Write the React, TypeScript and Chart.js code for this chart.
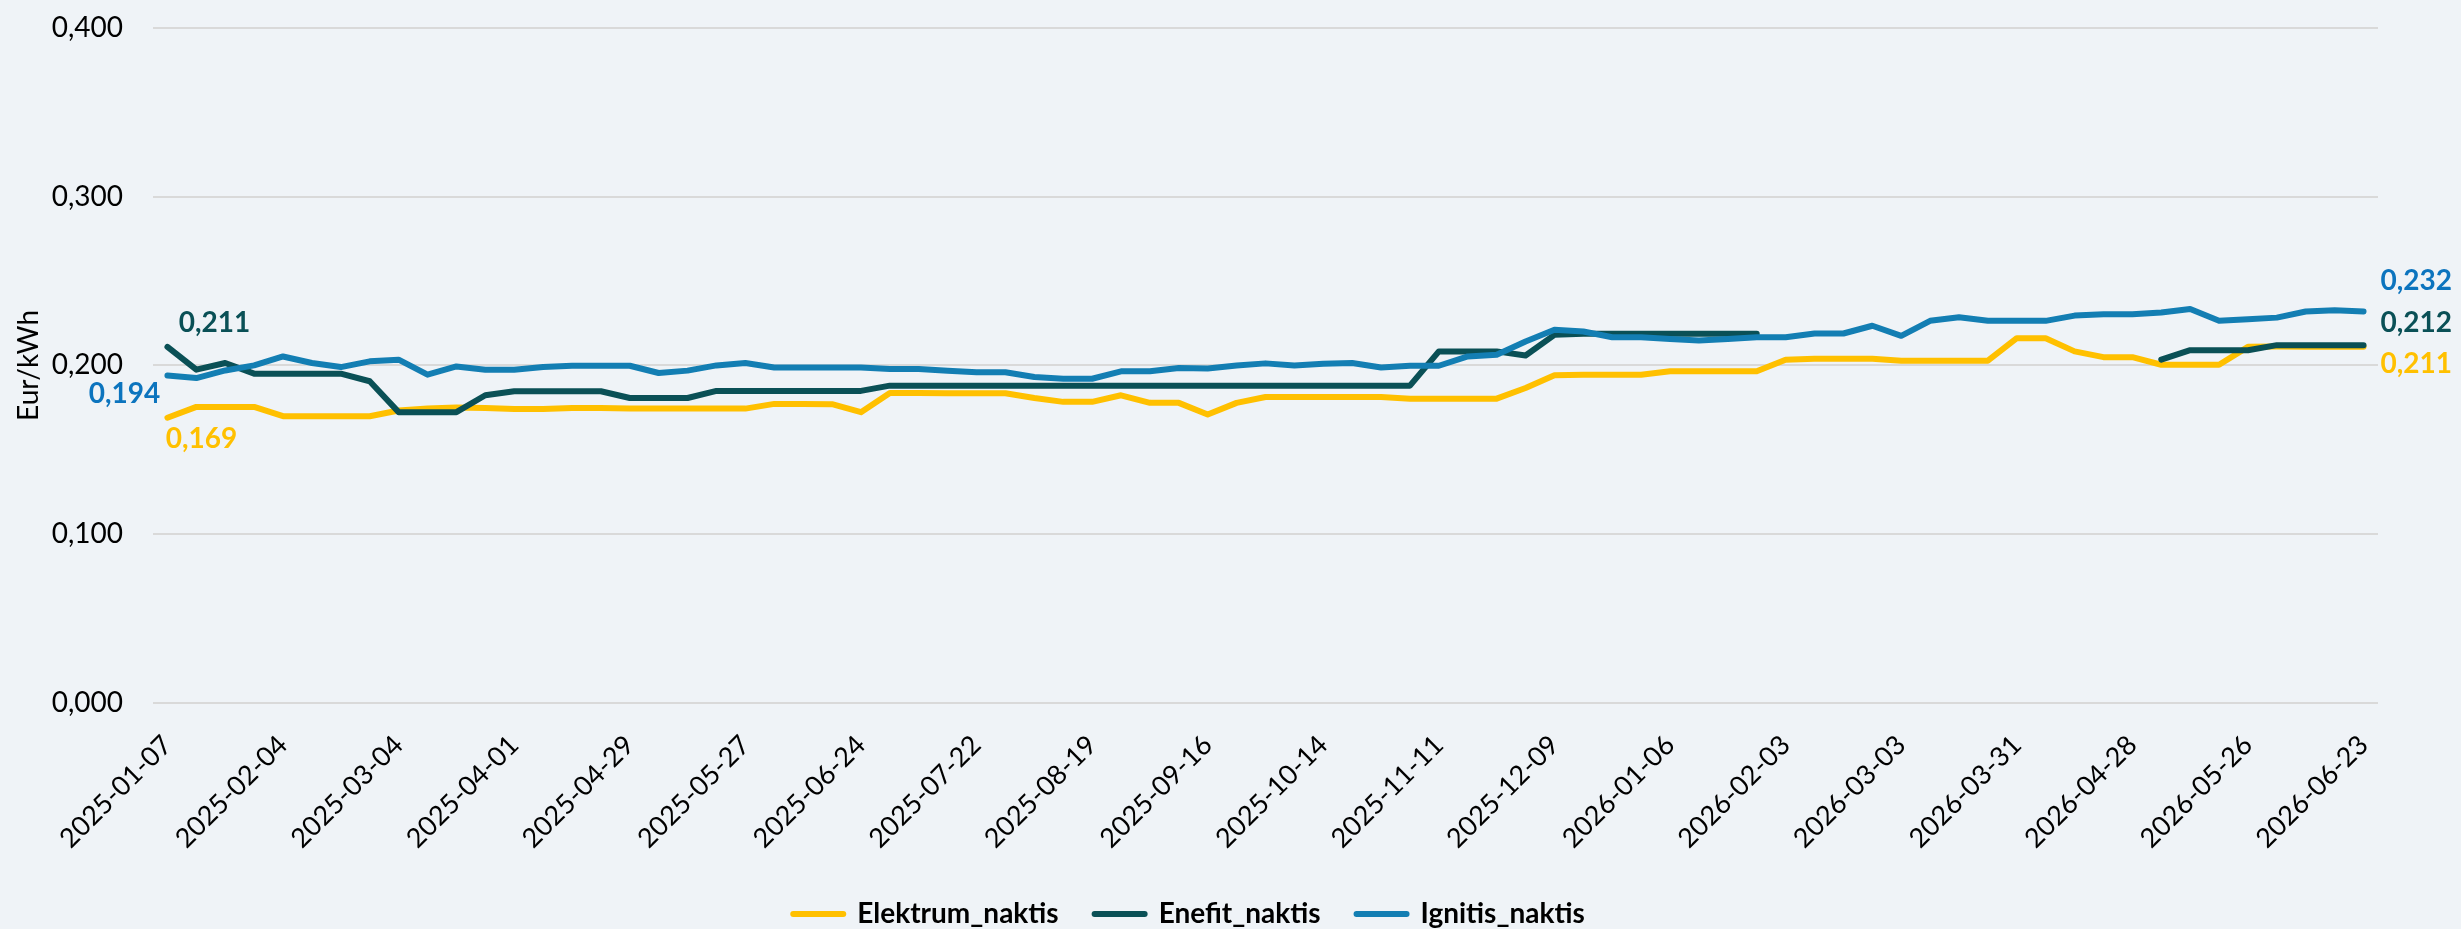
import React, { useEffect, useRef } from 'react';
import { Chart, registerables } from 'chart.js';

Chart.register(...registerables);

const dates = [
  '2025-01-07', '2025-01-14', '2025-01-21', '2025-01-28', '2025-02-04', '2025-02-11', '2025-02-18', '2025-02-25',
  '2025-03-04', '2025-03-11', '2025-03-18', '2025-03-25', '2025-04-01', '2025-04-08', '2025-04-15', '2025-04-22',
  '2025-04-29', '2025-05-06', '2025-05-13', '2025-05-20', '2025-05-27', '2025-06-03', '2025-06-10', '2025-06-17',
  '2025-06-24', '2025-07-01', '2025-07-08', '2025-07-15', '2025-07-22', '2025-07-29', '2025-08-05', '2025-08-12',
  '2025-08-19', '2025-08-26', '2025-09-02', '2025-09-09', '2025-09-16', '2025-09-23', '2025-09-30', '2025-10-07',
  '2025-10-14', '2025-10-21', '2025-10-28', '2025-11-04', '2025-11-11', '2025-11-18', '2025-11-25', '2025-12-02',
  '2025-12-09', '2025-12-16', '2025-12-23', '2025-12-30', '2026-01-06', '2026-01-13', '2026-01-20', '2026-01-27',
  '2026-02-03', '2026-02-10', '2026-02-17', '2026-02-24', '2026-03-03', '2026-03-10', '2026-03-17', '2026-03-24',
  '2026-03-31', '2026-04-07', '2026-04-14', '2026-04-21', '2026-04-28', '2026-05-05', '2026-05-12', '2026-05-19',
  '2026-05-26', '2026-06-02', '2026-06-09', '2026-06-16', '2026-06-23',
];

const elektrumNaktis = [
  0.169, 0.1754, 0.1754, 0.1754, 0.1699, 0.1699, 0.1699, 0.1699,
  0.1733, 0.1744, 0.175, 0.1748, 0.1742, 0.1742, 0.1748, 0.1748,
  0.1744, 0.1744, 0.1744, 0.1744, 0.1744, 0.1772, 0.1772, 0.177,
  0.1723, 0.1837, 0.1836, 0.1835, 0.1835, 0.1835, 0.1807, 0.1784,
  0.1784, 0.1823, 0.1778, 0.1778, 0.1709, 0.1778, 0.1813, 0.1813,
  0.1813, 0.1813, 0.1813, 0.1803, 0.1803, 0.1803, 0.1803, 0.1866,
  0.1941, 0.1945, 0.1945, 0.1945, 0.1965, 0.1965, 0.1965, 0.1965,
  0.2034, 0.2039, 0.2039, 0.2039, 0.2028, 0.2028, 0.2028, 0.2028,
  0.2161, 0.2161, 0.2083, 0.2049, 0.2049, 0.2004, 0.2004, 0.2004,
  0.211, 0.2112, 0.2111, 0.2111, 0.211,
];

const enefitNaktis = [
  0.211, 0.1975, 0.2014, 0.1951, 0.1951, 0.1951, 0.1951, 0.1906,
  0.1723, 0.1723, 0.1723, 0.1823, 0.1847, 0.1847, 0.1847, 0.1847,
  0.1807, 0.1807, 0.1807, 0.1849, 0.1849, 0.1849, 0.1849, 0.1849,
  0.1849, 0.188, 0.188, 0.188, 0.188, 0.188, 0.188, 0.188,
  0.188, 0.188, 0.188, 0.188, 0.188, 0.188, 0.188, 0.188,
  0.188, 0.188, 0.188, 0.188, 0.2083, 0.2083, 0.2083, 0.2059,
  0.2181, 0.2187, 0.2187, 0.2187, 0.2187, 0.2187, 0.2187, 0.2187,
  null, null, null, null, null, null, null, null,
  null, null, null, null, null, 0.2034, 0.209, 0.209,
  0.209, 0.212, 0.212, 0.212, 0.212,
];

const ignitisNaktis = [
  0.194, 0.1925, 0.197, 0.2, 0.2053, 0.2014, 0.199, 0.2024,
  0.2034, 0.1945, 0.1994, 0.1974, 0.1974, 0.199, 0.1998, 0.1998,
  0.1998, 0.1955, 0.1969, 0.2, 0.2014, 0.1988, 0.1988, 0.1988,
  0.1988, 0.1978, 0.1978, 0.1968, 0.1959, 0.1959, 0.1931, 0.1921,
  0.1921, 0.1965, 0.1965, 0.1984, 0.1982, 0.1999, 0.2012, 0.2,
  0.201, 0.2014, 0.1988, 0.1998, 0.1998, 0.2053, 0.2063, 0.2142,
  0.2211, 0.2201, 0.2167, 0.2167, 0.2157, 0.2147, 0.2157, 0.2167,
  0.2167, 0.2189, 0.2189, 0.2235, 0.2175, 0.2264, 0.2285, 0.2264,
  0.2264, 0.2264, 0.2295, 0.2303, 0.2303, 0.2313, 0.2334, 0.2264,
  0.2273, 0.2283, 0.2319, 0.2326, 0.232,
];

const seriesNames = ['Elektrum_naktis', 'Enefit_naktis', 'Ignitis_naktis'];
const lineColors = ['#FFC000', '#0A5056', '#137EB3'];
const labelColors = ['#FFC000', '#0A5056', '#0C74BE'];

const fmt = (v: number) => v.toFixed(3).replace('.', ',');

// label placement (pixel offsets from the data point)
const endLabelOffsets = [
  { first: { dx: 34, dy: 21, align: 'center' }, last: { dx: 17, dy: 17, align: 'left' } },
  { first: { dx: 47, dy: -24, align: 'center' }, last: { dx: 17, dy: -22, align: 'left' } },
  { first: { dx: -43, dy: 18, align: 'center' }, last: { dx: 17, dy: -30, align: 'left' } },
];

const endLabelPlugin = {
  id: 'endLabels',
  afterDatasetsDraw(chart: any) {
    const ctx = chart.ctx;
    ctx.save();
    ctx.font = 'bold 28px Lato';
    ctx.textBaseline = 'middle';
    chart.data.datasets.forEach((ds: any, di: number) => {
      const meta = chart.getDatasetMeta(di);
      const vals = ds.data as (number | null)[];
      const firstIdx = vals.findIndex((v) => v !== null);
      let lastIdx = vals.length - 1;
      while (lastIdx >= 0 && vals[lastIdx] === null) lastIdx--;
      const specs = [
        { idx: firstIdx, o: endLabelOffsets[di].first },
        { idx: lastIdx, o: endLabelOffsets[di].last },
      ];
      specs.forEach(({ idx, o }) => {
        const pt = meta.data[idx];
        if (!pt) return;
        ctx.fillStyle = labelColors[di];
        ctx.textAlign = o.align;
        ctx.fillText(fmt(vals[idx] as number), pt.x + o.dx, pt.y + o.dy);
      });
    });
    ctx.restore();
  },
};

export default function App() {
  const ref = useRef<HTMLCanvasElement>(null);

  useEffect(() => {
    if (!ref.current) return;
    Chart.defaults.font.family = 'Lato';
    const seriesData = [elektrumNaktis, enefitNaktis, ignitisNaktis];
    const chart = new Chart(ref.current, {
      type: 'line',
      data: {
        labels: dates,
        datasets: seriesData.map((d, i) => ({
          label: seriesNames[i],
          data: d,
          borderColor: lineColors[i],
          backgroundColor: lineColors[i],
          borderWidth: 6,
          pointRadius: 0,
          pointHoverRadius: 0,
          tension: 0,
          spanGaps: false,
          borderJoinStyle: 'round',
          borderCapStyle: 'round',
          order: 3 - i,
        })),
      },
      plugins: [endLabelPlugin],
      options: {
        responsive: false,
        animation: false,
        events: [],
        layout: { padding: { left: 0, right: 83, top: 6, bottom: 0 } },
        scales: {
          x: {
            type: 'category',
            offset: true,
            grid: { display: false },
            border: { display: false },
            ticks: {
              autoSkip: false,
              maxRotation: 45,
              minRotation: 45,
              padding: 18,
              color: '#000',
              font: { size: 27 },
              callback: (_v: any, i: number) => (i % 4 === 0 ? dates[i] : ''),
            },
            afterFit: (s: any) => {
              s.height = 161;
            },
          },
          y: {
            min: 0,
            max: 0.4,
            grid: { color: '#D9D9D9', lineWidth: 2, drawTicks: false },
            border: { display: false },
            ticks: {
              stepSize: 0.1,
              padding: 30,
              color: '#000',
              font: { size: 28 },
              callback: (v: any) => fmt(Number(v)),
            },
            title: {
              display: true,
              text: 'Eur/kWh',
              color: '#000',
              font: { size: 28 },
              padding: { top: 12, bottom: 0 },
            },
            afterFit: (s: any) => {
              s.width = 153;
            },
          },
        },
        plugins: {
          tooltip: { enabled: false },
          legend: {
            position: 'bottom',
            labels: {
              usePointStyle: true,
              pointStyleWidth: 50,
              padding: 36,
              color: '#000',
              font: { size: 28, weight: 'bold' },
              generateLabels: (c: any) =>
                c.data.datasets.map((ds: any, i: number) => ({
                  text: ds.label,
                  fillStyle: ds.borderColor,
                  strokeStyle: ds.borderColor,
                  lineWidth: 6,
                  lineCap: 'round',
                  pointStyle: 'line',
                  hidden: false,
                  fontColor: '#000',
                  datasetIndex: i,
                })),
            },
          },
        },
      },
    } as any);
    return () => chart.destroy();
  }, []);

  return (
    <div
      style={{
        position: 'fixed',
        left: 0,
        top: 0,
        width: 2461,
        height: 929,
        overflow: 'hidden',
        background: '#EFF3F7',
      }}
    >
      <canvas
        ref={ref}
        width={2461}
        height={957}
        style={{ display: 'block', width: 2461, height: 957, marginTop: -19 }}
      />
    </div>
  );
}
